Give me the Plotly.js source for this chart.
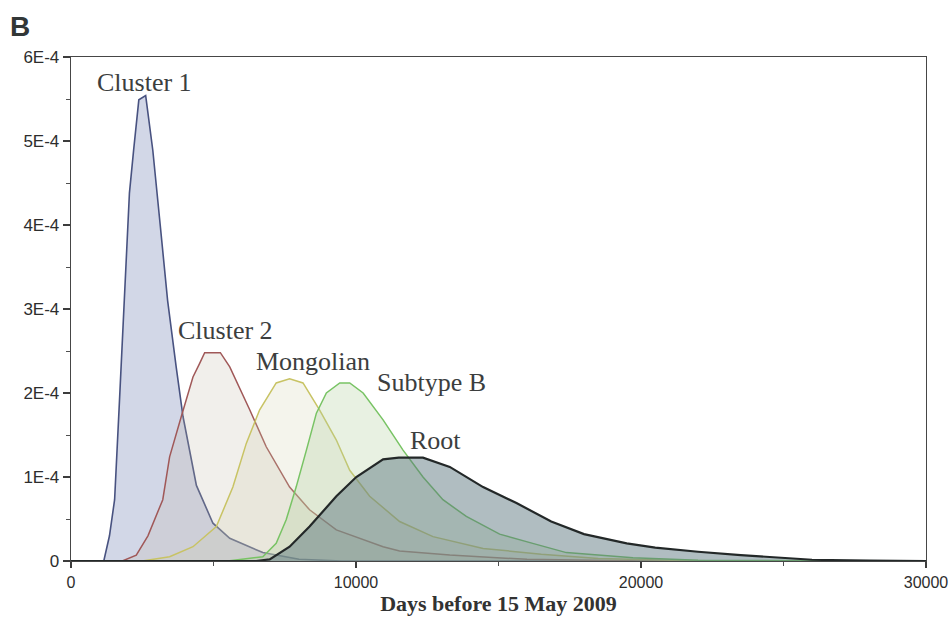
<!DOCTYPE html>
<html>
<head>
<meta charset="utf-8">
<script src="https://cdn.plot.ly/plotly-3.0.1.min.js"></script>
<style>
  html, body { margin: 0; padding: 0; background: #ffffff; }
  #chart { width: 950px; height: 623px; }
</style>
</head>
<body>
<div id="chart"></div>
<script>
// Density values are in units of 1E-4
const yUnit = 1e-4;

const cluster1X = [0, 1150, 1350, 1530, 1700, 1880, 2050, 2200, 2380, 2620, 2870, 3130, 3390, 3690, 3930, 4400, 4980, 5570, 6730, 8000, 9500, 30000];
const cluster1Y = [0, 0, 0.3, 0.73, 1.9, 3.1, 4.38, 4.9, 5.49, 5.54, 4.89, 4.0, 3.1, 2.31, 1.72, 0.9, 0.45, 0.27, 0.1, 0.02, 0, 0];

const cluster2X = [0, 1800, 2290, 2700, 3220, 3460, 3870, 4280, 4510, 4690, 5240, 5570, 6270, 6850, 7670, 8370, 9310, 10950, 11530, 13290, 16000, 20000, 30000];
const cluster2Y = [0, 0, 0.07, 0.3, 0.73, 1.24, 1.72, 2.19, 2.35, 2.48, 2.48, 2.31, 1.8, 1.36, 0.88, 0.61, 0.37, 0.17, 0.12, 0.07, 0.02, 0, 0];

const mongolianX = [0, 2500, 3460, 4280, 5100, 5680, 6150, 6620, 7200, 7670, 8140, 8720, 9310, 9780, 10480, 11530, 12700, 13870, 14460, 16500, 18500, 21000, 23000, 30000];
const mongolianY = [0, 0, 0.05, 0.17, 0.41, 0.88, 1.4, 1.8, 2.12, 2.17, 2.12, 1.8, 1.44, 1.08, 0.77, 0.47, 0.29, 0.2, 0.15, 0.08, 0.03, 0.01, 0, 0];

const subtypeBX = [0, 5500, 6730, 7200, 7550, 7900, 8260, 8610, 8960, 9430, 9780, 10250, 10950, 11650, 12350, 13050, 13870, 15040, 16200, 17380, 19720, 22000, 30000];
const subtypeBY = [0, 0, 0.05, 0.21, 0.49, 0.88, 1.32, 1.76, 2.0, 2.12, 2.12, 2.0, 1.68, 1.32, 1.0, 0.73, 0.53, 0.32, 0.21, 0.1, 0.04, 0.01, 0];

const rootX = [0, 6500, 6970, 7670, 8370, 9310, 10010, 10950, 11500, 12350, 13290, 14460, 15630, 16850, 18000, 19500, 20500, 22000, 23500, 25000, 26000, 28000, 30000];
const rootY = [0, 0, 0.02, 0.17, 0.41, 0.77, 1.0, 1.21, 1.23, 1.23, 1.12, 0.88, 0.69, 0.47, 0.32, 0.21, 0.16, 0.11, 0.07, 0.04, 0.015, 0.005, 0];

const seriesNames = ["Cluster 1", "Cluster 2", "Mongolian", "Subtype B", "Root"];
const labelX = [2580, 5430, 8480, 12660, 12800];
const labelY = [5.70, 2.75, 2.37, 2.13, 1.43];

const yTickVals = [0, 1, 2, 3, 4, 5, 6];
const yTickText = ["0", "1E-4", "2E-4", "3E-4", "4E-4", "5E-4", "6E-4"];
const xTickVals = [0, 10000, 20000, 30000];
const xTickText = ["0", "10000", "20000", "30000"];

const scaleY = arr => arr.map(v => v * yUnit);

const styles = [
  {line: "rgb(72,82,128)", fill: "rgba(160,172,205,0.48)", w: 1.6},
  {line: "rgb(160,88,88)", fill: "rgba(190,180,165,0.22)", w: 1.5},
  {line: "rgb(200,195,100)", fill: "rgba(205,205,170,0.22)", w: 1.5},
  {line: "rgb(120,195,100)", fill: "rgba(178,210,160,0.3)", w: 1.5},
  {line: "rgb(35,40,40)", fill: "rgba(90,118,125,0.48)", w: 2.2}
];
const xs = [cluster1X, cluster2X, mongolianX, subtypeBX, rootX];
const ys = [cluster1Y, cluster2Y, mongolianY, subtypeBY, rootY];

const traces = xs.map((x, i) => ({
  type: "scatter",
  mode: "lines",
  name: seriesNames[i],
  x: x,
  y: scaleY(ys[i]),
  fill: "tozeroy",
  fillcolor: styles[i].fill,
  line: {color: styles[i].line, width: styles[i].w, shape: "linear"},
  hoverinfo: "skip"
}));

const annotations = seriesNames.map((n, i) => ({
  x: labelX[i], y: labelY[i] * yUnit, xref: "x", yref: "y",
  text: n, showarrow: false,
  font: {family: "Liberation Serif, Times New Roman, serif", size: 26, color: "rgb(60,62,62)"},
  xanchor: "center", yanchor: "middle"
}));
annotations.push({
  xref: "paper", yref: "paper",
  x: -63 / 855, y: 1 + 31 / 504,
  xanchor: "left", yanchor: "middle",
  text: "<b>B</b>", showarrow: false,
  font: {family: "Liberation Sans, Arial, sans-serif", size: 28, color: "rgb(50,55,55)"}
});

const layout = {
  width: 950, height: 623,
  margin: {l: 71, r: 24, t: 57, b: 62, pad: 0},
  paper_bgcolor: "#ffffff",
  plot_bgcolor: "#ffffff",
  showlegend: false,
  xaxis: {
    range: [0, 30000],
    tickvals: xTickVals, ticktext: xTickText,
    ticks: "outside", ticklen: 6, tickwidth: 1.3, tickcolor: "rgb(60,60,60)",
    minor: {tickvals: [5000, 15000, 25000], ticks: "outside", ticklen: 4, tickwidth: 1, tickcolor: "rgb(80,80,80)"},
    showline: true, linecolor: "rgb(70,70,70)", linewidth: 1.3, mirror: true,
    showgrid: false, zeroline: false,
    tickfont: {family: "Liberation Sans, Arial, sans-serif", size: 16, color: "rgb(45,45,45)"},
    title: {
      text: "<b>Days before 15 May 2009</b>",
      font: {family: "Liberation Serif, Times New Roman, serif", size: 22, color: "rgb(50,50,50)"},
      standoff: 6
    }
  },
  yaxis: {
    range: [0, 6e-4],
    tickvals: scaleY(yTickVals), ticktext: yTickText,
    ticks: "outside", ticklen: 7, tickwidth: 1.3, tickcolor: "rgb(60,60,60)",
    minor: {tickvals: scaleY([0.5, 1.5, 2.5, 3.5, 4.5, 5.5]), ticks: "outside", ticklen: 4, tickwidth: 1, tickcolor: "rgb(80,80,80)"},
    showline: true, linecolor: "rgb(70,70,70)", linewidth: 1.3, mirror: true,
    showgrid: false, zeroline: false,
    tickfont: {family: "Liberation Sans, Arial, sans-serif", size: 17, color: "rgb(45,45,45)"}
  },
  annotations: annotations
};

Plotly.newPlot("chart", traces, layout, {displayModeBar: false, staticPlot: true});
</script>
</body>
</html>
